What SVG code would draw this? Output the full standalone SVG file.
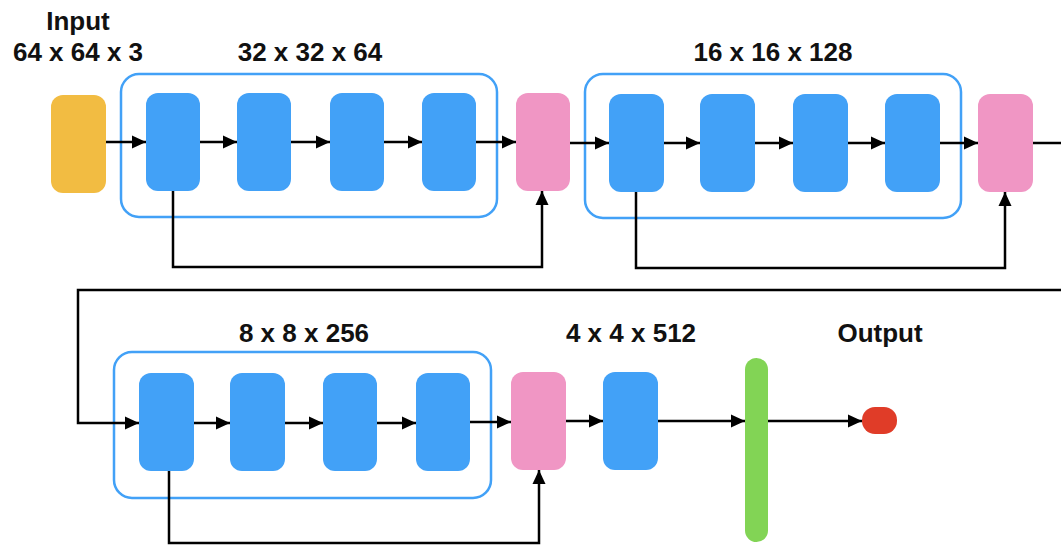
<svg xmlns="http://www.w3.org/2000/svg" width="1061" height="545" viewBox="0 0 1061 545">
<defs>
<style>
.t{font-family:"Liberation Sans",Arial,sans-serif;font-weight:bold;font-size:26px;fill:#111;text-anchor:middle}
.grp{fill:none;stroke:#42A1F7;stroke-width:2.5}
.b{fill:#42A1F7}
.p{fill:#F096C4}
.c{fill:none;stroke:#000;stroke-width:2.5}
</style>
<marker id="ah" viewBox="0 0 14 14" refX="14" refY="7" markerWidth="14" markerHeight="14" markerUnits="userSpaceOnUse" orient="auto">
<path d="M0,0.5 L14,7 L0,13.5 z" fill="#000"/>
</marker>
</defs>
<rect width="1061" height="545" fill="#fff"/>
<g id="labels">
<text class="t" x="78" y="30">Input</text>
<text class="t" x="78" y="61">64 x 64 x 3</text>
<text class="t" x="310" y="61">32 x 32 x 64</text>
<text class="t" x="773" y="61">16 x 16 x 128</text>
<text class="t" x="304" y="342">8 x 8 x 256</text>
<text class="t" x="631" y="342">4 x 4 x 512</text>
<text class="t" x="880" y="342">Output</text>
</g>
<g id="group1"><rect class="grp" x="121" y="74" width="376" height="143" rx="18"/></g>
<g id="group2"><rect class="grp" x="585" y="74" width="376" height="144" rx="18"/></g>
<g id="group3"><rect class="grp" x="114" y="352" width="377" height="146" rx="18"/></g>
<g id="input"><rect x="51" y="95" width="55" height="98" rx="12" fill="#F2BC42"/></g>
<g id="b11"><rect class="b" x="146" y="93" width="54" height="98" rx="12"/></g>
<g id="b12"><rect class="b" x="237" y="93" width="54" height="98" rx="12"/></g>
<g id="b13"><rect class="b" x="330" y="93" width="54" height="98" rx="12"/></g>
<g id="b14"><rect class="b" x="422" y="93" width="54" height="98" rx="12"/></g>
<g id="pool1"><rect class="p" x="516" y="93" width="54" height="98" rx="12"/></g>
<g id="b21"><rect class="b" x="609" y="94" width="55" height="98" rx="12"/></g>
<g id="b22"><rect class="b" x="700" y="94" width="55" height="98" rx="12"/></g>
<g id="b23"><rect class="b" x="793" y="94" width="55" height="98" rx="12"/></g>
<g id="b24"><rect class="b" x="885" y="94" width="55" height="98" rx="12"/></g>
<g id="pool2"><rect class="p" x="978" y="94" width="55" height="98" rx="12"/></g>
<g id="b31"><rect class="b" x="139" y="373" width="55" height="98" rx="12"/></g>
<g id="b32"><rect class="b" x="230" y="373" width="55" height="98" rx="12"/></g>
<g id="b33"><rect class="b" x="323" y="373" width="54" height="98" rx="12"/></g>
<g id="b34"><rect class="b" x="416" y="373" width="54" height="98" rx="12"/></g>
<g id="pool3"><rect class="p" x="511" y="372" width="55" height="98" rx="12"/></g>
<g id="b4"><rect class="b" x="603" y="372" width="55" height="98" rx="12"/></g>
<g id="fc"><rect x="745" y="358" width="23" height="184" rx="11.5" fill="#82D455"/></g>
<g id="out"><rect x="862" y="407" width="35" height="27" rx="13" fill="#E03C28"/></g>
<g id="connectors">
<path class="c" d="M106,142 H146" marker-end="url(#ah)"/>
<path class="c" d="M200,142 H237" marker-end="url(#ah)"/>
<path class="c" d="M291,142 H330" marker-end="url(#ah)"/>
<path class="c" d="M384,142 H422" marker-end="url(#ah)"/>
<path class="c" d="M476,142 H516" marker-end="url(#ah)"/>
<path class="c" d="M570,143 H609" marker-end="url(#ah)"/>
<path class="c" d="M664,143 H700" marker-end="url(#ah)"/>
<path class="c" d="M755,143 H793" marker-end="url(#ah)"/>
<path class="c" d="M848,143 H885" marker-end="url(#ah)"/>
<path class="c" d="M940,143 H978" marker-end="url(#ah)"/>
<path class="c" d="M173,191 V267 H542 V191" marker-end="url(#ah)"/>
<path class="c" d="M636,192 V268 H1005 V192" marker-end="url(#ah)"/>
<path class="c" d="M1033,143 H1061"/>
<path class="c" d="M1061,290 H78 V423 H139" marker-end="url(#ah)"/>
<path class="c" d="M194,423 H230" marker-end="url(#ah)"/>
<path class="c" d="M285,423 H323" marker-end="url(#ah)"/>
<path class="c" d="M377,423 H416" marker-end="url(#ah)"/>
<path class="c" d="M470,422 H511" marker-end="url(#ah)"/>
<path class="c" d="M169,471 V543 H539 V470" marker-end="url(#ah)"/>
<path class="c" d="M566,421 H603" marker-end="url(#ah)"/>
<path class="c" d="M658,421 H745" marker-end="url(#ah)"/>
<path class="c" d="M768,421 H862" marker-end="url(#ah)"/>
</g>
</svg>
